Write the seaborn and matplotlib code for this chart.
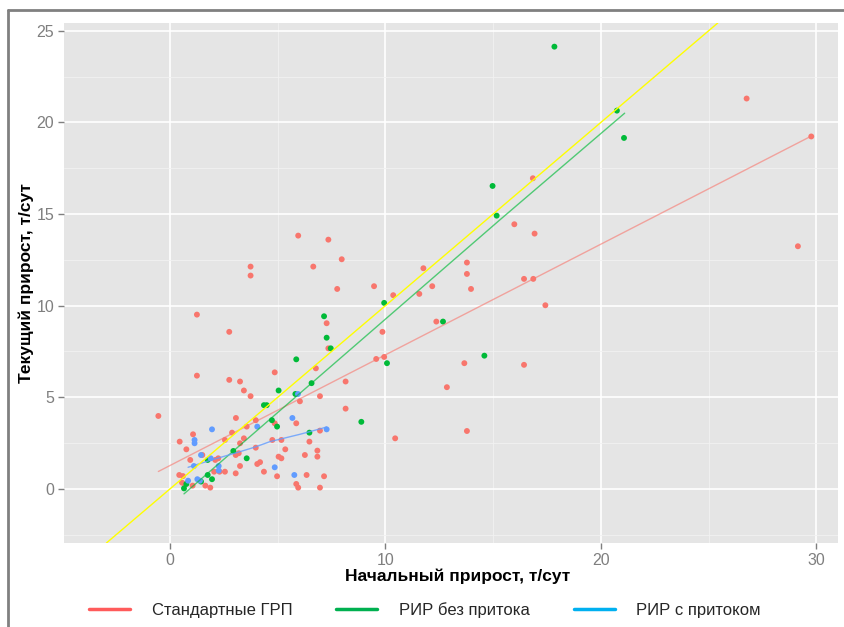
import pandas as pd
import matplotlib.pyplot as plt
import seaborn as sns
from matplotlib.lines import Line2D

# Group names
groups = ['Стандартные ГРП', 'РИР без притока', 'РИР с притоком']

# Стандартные ГРП
std_x = [5.95, 7.35, 7.97, 3.74, 3.74, 6.65, 7.76, 1.25, 7.27, 7.35, 2.75, 6.77, 1.25, 2.75,
         3.25, 8.15, 3.43, 4.86, 3.74, 6.96, 6.03, 8.15, -0.54, 3.06, 3.98, 4.86, 5.86, 3.56,
         6.96, 1.07, 2.88, 4.75, 5.17, 6.47, 0.45, 2.55, 3.43, 3.25, 0.76, 5.35, 6.84, 3.19,
         3.05, 1.50, 0.94, 2.24, 2.10, 6.26, 6.84, 5.04, 5.17, 3.25, 4.05, 4.18, 3.98, 2.55,
         2.30, 2.05, 3.05, 4.36, 0.43, 0.60, 0.56, 0.70, 1.05, 1.64, 1.87, 4.97, 6.34, 7.15,
         5.86, 5.95, 6.96,
         15.98, 16.92, 11.76, 13.78, 13.78, 9.47, 10.36, 11.57, 12.17, 13.97, 16.43, 16.86,
         17.42, 12.36, 9.86, 9.57, 9.94, 13.66, 16.43, 12.85, 10.45, 13.78, 16.84, 26.76,
         29.76, 29.14]
std_y = [13.82, 13.60, 12.53, 12.13, 11.64, 12.13, 10.91, 9.51, 9.04, 7.67, 8.57, 6.58, 6.18, 5.95,
         5.86, 5.86, 5.37, 6.36, 5.06, 5.06, 4.78, 4.38, 3.98, 3.87, 3.75, 3.58, 3.58, 3.40,
         3.18, 2.98, 3.07, 2.67, 2.67, 2.58, 2.58, 2.67, 2.76, 2.49, 2.16, 2.16, 2.09, 1.95,
         1.85, 1.85, 1.58, 1.67, 1.58, 1.85, 1.76, 1.76, 1.67, 1.25, 1.36, 1.46, 2.25, 0.94,
         0.94, 0.94, 0.85, 0.94, 0.76, 0.70, 0.34, 0.25, 0.18, 0.18, 0.07, 0.69, 0.76, 0.69,
         0.27, 0.07, 0.07,
         14.44, 13.93, 12.04, 12.35, 11.73, 11.06, 10.57, 10.64, 11.06, 10.91, 11.46, 11.46,
         10.02, 9.13, 8.57, 7.09, 7.20, 6.86, 6.77, 5.55, 2.76, 3.16, 16.95, 21.30,
         19.23, 13.24]

# РИР без притока
rir_no_x = [7.15, 7.27, 7.46, 5.86, 6.57, 5.04, 5.82, 4.36, 4.49, 4.73, 4.97, 8.88, 6.47, 2.94,
            3.56, 1.75, 1.75, 1.95, 0.76, 1.44, 0.65, 9.94, 12.67, 10.07, 14.59, 14.97, 15.16,
            17.84, 20.74, 21.07]
rir_no_y = [9.42, 8.25, 7.67, 7.07, 5.77, 5.37, 5.18, 4.57, 4.57, 3.75, 3.40, 3.66, 3.07, 2.07,
            1.67, 1.58, 0.76, 0.53, 0.27, 0.40, 0.03, 10.15, 9.13, 6.86, 7.27, 16.53, 14.91,
            24.13, 20.64, 19.15]

# РИР с притоком
rir_in_x = [5.94, 5.68, 1.95, 4.05, 7.27, 1.14, 1.14, 1.44, 1.89, 1.11, 2.26, 2.26, 4.86, 1.27,
            1.39, 0.84, 5.77]
rir_in_y = [5.18, 3.87, 3.25, 3.40, 3.25, 2.67, 2.49, 1.85, 1.67, 1.25, 1.25, 1.00, 1.18, 0.53,
            0.45, 0.45, 0.76]

# Trend lines
std_fit_x = [-0.54, 29.76]
std_fit_y = [0.95, 19.25]
rir_no_fit_x = [0.65, 5.10, 15.30, 21.10]
rir_no_fit_y = [-0.27, 4.27, 14.67, 20.50]
rir_in_fit_x = [0.84, 1.93, 3.02, 3.94, 4.64, 6.03, 7.04, 7.27]
rir_in_fit_y = [1.18, 1.58, 1.95, 2.28, 2.58, 2.98, 3.30, 3.38]
diag_slope = 1

df = pd.concat([
    pd.DataFrame({'x': std_x, 'y': std_y, 'group': groups[0]}),
    pd.DataFrame({'x': rir_no_x, 'y': rir_no_y, 'group': groups[1]}),
    pd.DataFrame({'x': rir_in_x, 'y': rir_in_y, 'group': groups[2]}),
])

point_colors = {groups[0]: '#F8766D', groups[1]: '#00BA38', groups[2]: '#619CFF'}
legend_colors = ['#FF5B5B', '#00B050', '#00B0F0']

sns.set_theme(style='darkgrid')
plt.rcParams['font.family'] = ['Liberation Sans', 'DejaVu Sans']

fig = plt.figure(figsize=(8.45, 6.27), dpi=100)
ax = fig.add_axes([0.0757, 0.134, 0.916, 0.8293])
ax.set_facecolor('#E5E5E5')

sns.scatterplot(data=df, x='x', y='y', hue='group', palette=point_colors, s=18,
                linewidth=0, legend=False, ax=ax, zorder=3)

# trend lines
sns.lineplot(x=std_fit_x, y=std_fit_y, color='#F8766D', alpha=0.6, lw=1, ax=ax, zorder=4)
sns.lineplot(x=rir_no_fit_x, y=rir_no_fit_y, color='#00BA38', alpha=0.65, lw=1, ax=ax, zorder=4)
sns.lineplot(x=rir_in_fit_x, y=rir_in_fit_y, color='#619CFF', alpha=0.8, lw=1, ax=ax, zorder=4)
ax.axline((0, 0), slope=diag_slope, color='#FFFF00', lw=1, zorder=4)

ax.set_xlim(-4.92, 31.0)
ax.set_ylim(-2.95, 25.42)
ax.set_xticks([0, 10, 20, 30])
ax.set_xticks([5, 15, 25], minor=True)
ax.set_yticks([0, 5, 10, 15, 20, 25])
ax.set_yticks([-2.5, 2.5, 7.5, 12.5, 17.5, 22.5], minor=True)
ax.grid(which='major', color='white', lw=1.2)
ax.grid(which='minor', color='#F2F2F2', lw=0.6)
ax.tick_params(which='major', axis='both', length=4, width=1, color='#7F7F7F',
               labelcolor='#7F7F7F', labelsize=11.5, pad=3)
ax.tick_params(which='minor', length=0)
ax.tick_params(axis='x', bottom=True)
ax.tick_params(axis='y', left=True)
for s in ax.spines.values():
    s.set_visible(False)

ax.set_xlabel('Начальный прирост, т/сут', fontsize=12.5, fontweight='bold', color='black')
ax.set_ylabel('Текущий прирост, т/сут', fontsize=12.5, fontweight='bold',
              color='black', labelpad=1.5)
ax.xaxis.set_label_coords(0.509, -0.05)

handles = [Line2D([], [], color=c, lw=2.5) for c in legend_colors]
fig.legend(handles, groups, loc='center', bbox_to_anchor=(0.503, 0.027), ncol=3,
           frameon=False, handlelength=2.45, handletextpad=1.3, columnspacing=2.65,
           prop={'size': 12})

# screenshot frame (top and left edges)
fig.add_artist(Line2D([0.0095, 0.0095], [0, 0.984], transform=fig.transFigure,
                      color='#808080', lw=2))
fig.add_artist(Line2D([0.0095, 1], [0.984, 0.984], transform=fig.transFigure,
                      color='#808080', lw=2))

fig.savefig('out.png', dpi=100)
